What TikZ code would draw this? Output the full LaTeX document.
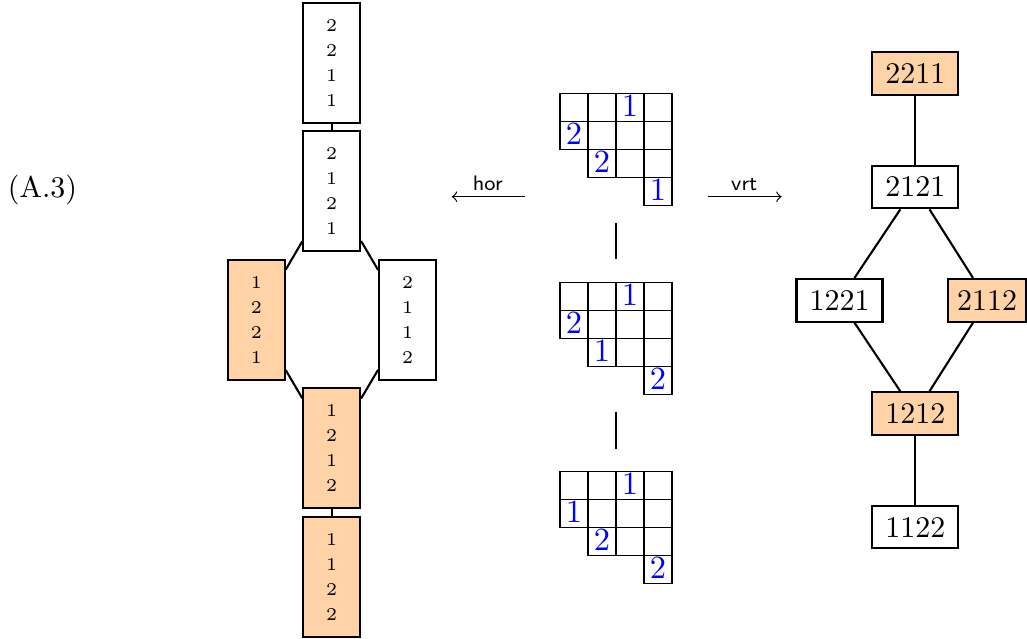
\documentclass[tikz,border=0pt]{standalone}
\usepackage{fontspec}
\definecolor{peach}{RGB}{255,211,165}
\newcommand\mytableau[6]{%
  \begin{scope}[shift={#1}]
    \foreach \c in {0,...,3} {
      \draw (\c*28,0) rectangle ++(28,28);
      \draw (\c*28,28) rectangle ++(28,28);
    }
    \foreach \c in {1,2,3} { \draw (\c*28,56) rectangle ++(28,28); }
    \draw (84,84) rectangle ++(28,28);
    \node[ent] (#2a) at (70,12) {#3};
    \node[ent] (#2b) at (14,40) {#4};
    \node[ent] (#2c) at (42,68) {#5};
    \node[ent] (#2d) at (98,96) {#6};
  \end{scope}}
\begin{document}
\begin{tikzpicture}[x=0.33333pt,y=-0.33333pt,
  vbox/.style={draw,line width=0.7pt,inner sep=0pt,minimum width=18.9pt,minimum height=40pt,align=center,font=\fontsize{6}{8.33}\selectfont},
  hbox/.style={draw,line width=0.7pt,inner sep=0pt,minimum width=28.67pt,minimum height=14.2pt,font=\fontsize{10}{12}\selectfont},
  hl/.style={fill=peach},
  edge/.style={line width=0.7pt},
  ent/.style={text=blue,inner sep=0pt,font=\fontsize{10.8}{12}\selectfont},
  lab/.style={font=\fontsize{7}{8}\selectfont\sffamily,anchor=base,inner sep=0pt}]
\useasboundingbox (0,0) rectangle (1027,638);

% equation label
\node[anchor=base,inner sep=0pt,font=\fontsize{10}{12}\selectfont] (eq) at (42.5,197) {(A.3)};

% left column
\node[vbox] (L2211) at (331.7,62.7) {2\\2\\1\\1};
\node[vbox] (L2121) at (331.7,191) {2\\1\\2\\1};
\node[vbox,hl] (L1221) at (256.3,320) {1\\2\\2\\1};
\node[vbox] (L2112) at (407.5,320) {2\\1\\1\\2};
\node[vbox,hl] (L1212) at (331.7,448.3) {1\\2\\1\\2};
\node[vbox,hl] (L1122) at (331.7,576.7) {1\\1\\2\\2};
\draw[edge] (L2211) -- (L2121);
\draw[edge] (L2121) -- (L1221);
\draw[edge] (L2121) -- (L2112);
\draw[edge] (L1221) -- (L1212);
\draw[edge] (L2112) -- (L1212);
\draw[edge] (L1212) -- (L1122);

% tableaux
\mytableau{(560,93.3)}{ta}{1}{2}{2}{1}
\mytableau{(560,282.3)}{tb}{1}{2}{1}{2}
\mytableau{(560,471.7)}{tc}{1}{1}{2}{2}
\coordinate (s1a) at (616,223);
\coordinate (s1b) at (616,259);
\coordinate (s2a) at (616,411.7);
\coordinate (s2b) at (616,449);
\draw (s1a) -- (s1b);
\draw (s2a) -- (s2b);

% arrows
\coordinate (ha) at (525,196.7);
\coordinate (hb) at (451.7,196.7);
\coordinate (va) at (708,196.7);
\coordinate (vb) at (781.7,196.7);
\draw[->] (ha) -- (hb);
\draw[->] (va) -- (vb);
\node[lab] (hor) at (487.8,190) {hor};
\node[lab] (vrt) at (744.2,190) {vrt};

% right poset
\node[hbox,hl] (R2211) at (915.3,73.7) {2211};
\node[hbox] (R2121) at (915.3,187) {2121};
\node[hbox] (R1221) at (839.5,300.3) {1221};
\node[hbox,hl,minimum width=26pt] (R2112) at (987.2,300.3) {2112};
\node[hbox,hl] (R1212) at (915.3,413.7) {1212};
\node[hbox] (R1122) at (915.3,527) {1122};
\draw[edge] (R2211) -- (R2121);
\draw[edge] (R2121) -- (R1221);
\draw[edge] (R2121) -- (R2112);
\draw[edge] (R1221) -- (R1212);
\draw[edge] (R2112) -- (R1212);
\draw[edge] (R1212) -- (R1122);
\end{tikzpicture}
\end{document}
